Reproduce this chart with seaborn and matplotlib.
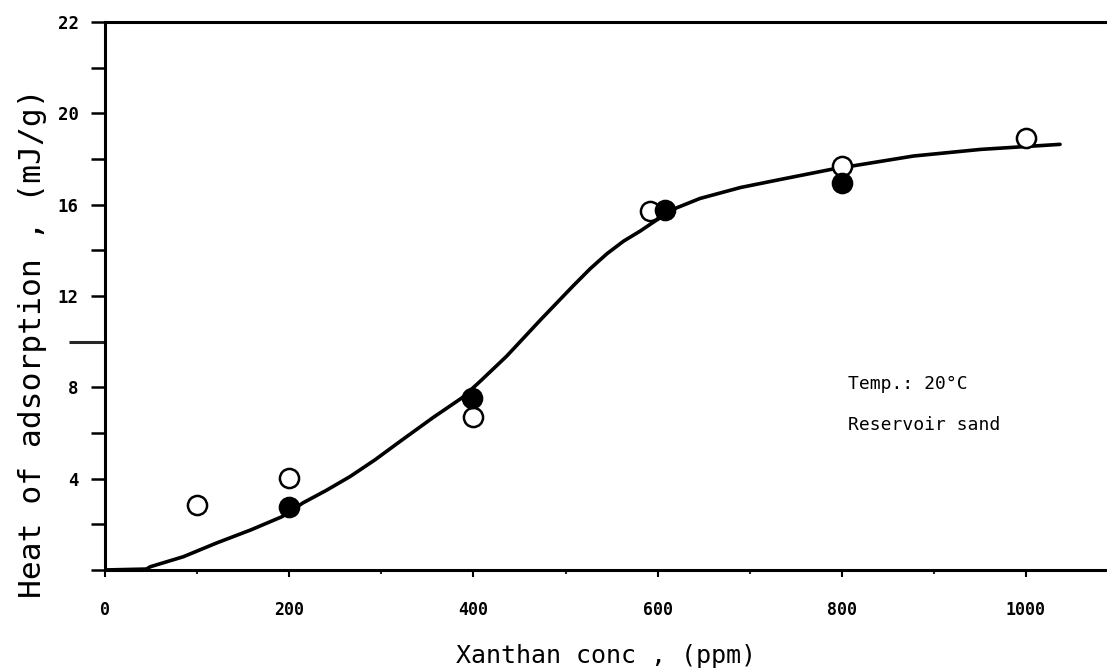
import numpy as np
import pandas as pd
import matplotlib
matplotlib.use("Agg")
import matplotlib.pyplot as plt
import seaborn as sns

# ---- data ----
curve_x = [0, 45, 49, 85, 121, 158, 192, 215, 240, 266, 293, 320, 356, 388,
           407, 436, 473, 508, 527, 545, 563, 581, 595, 617, 646, 690, 733,
           788, 878, 951, 1037]
curve_y = [0, 0.04, 0.14, 0.58, 1.18, 1.75, 2.33, 2.94, 3.48, 4.09, 4.82, 5.62,
           6.67, 7.55, 8.25, 9.36, 10.96, 12.43, 13.20, 13.85, 14.40, 14.84,
           15.22, 15.80, 16.27, 16.75, 17.10, 17.54, 18.13, 18.42, 18.64]

open_x = [100, 200, 400, 592, 800, 1000]
open_y = [2.85, 4.03, 6.72, 15.70, 17.70, 18.93]

filled_x = [200, 398, 608, 800]
filled_y = [2.76, 7.53, 15.76, 16.96]

xticks = [0, 200, 400, 600, 800, 1000]
xtick_labels = ["0", "200", "400", "600", "800", "1000"]
yticks = [0, 2, 4, 6, 8, 12, 14, 16, 18, 20, 22, 24]
ytick_labels = ["", "", "4", "", "8", "12", "", "16", "", "20", "", "22"]

annot = ["Temp.: 20°C", "Reservoir sand"]

# ---- plotting ----
sns.set_style("ticks")
plt.rcParams["font.family"] = ["DejaVu Sans Mono", "DejaVu Sans"]
plt.rcParams["text.color"] = "black"
plt.rcParams["axes.labelcolor"] = "black"

fig = plt.figure(figsize=(11.07, 6.70), dpi=100)
ax = fig.add_axes([0.0949, 0.1493, 0.9051, 0.8179])

curve = pd.DataFrame({"x": curve_x, "y": curve_y})
op = pd.DataFrame({"x": open_x, "y": open_y})
fl = pd.DataFrame({"x": filled_x, "y": filled_y})

sns.lineplot(data=curve, x="x", y="y", ax=ax, color="black", lw=2.6,
             sort=True, zorder=2)
sns.scatterplot(data=op, x="x", y="y", ax=ax, s=190, facecolor="white",
                edgecolor="black", linewidth=1.8, zorder=3)
sns.scatterplot(data=fl, x="x", y="y", ax=ax, s=190, color="black",
                edgecolor="black", linewidth=1.8, zorder=4)

ax.set_xlim(0, 1088)
ax.set_ylim(0, 24)

ax.set_xticks(xticks)
ax.set_xticklabels(xtick_labels, fontsize=12, fontweight="bold")
ax.set_xticks([100, 300, 500, 700, 900], minor=True)
ax.set_yticks(yticks)
ax.set_yticklabels(ytick_labels, fontsize=12.5, fontweight="bold")
ax.set_yticks([10], minor=True)

ax.tick_params(axis="x", which="major", direction="out", length=5, width=1.5,
               pad=17, colors="black")
ax.tick_params(axis="x", which="minor", direction="out", length=3, width=1.5)
ax.tick_params(axis="y", which="major", direction="out", length=10, width=1.8,
               pad=9, colors="black")
ax.tick_params(axis="y", which="minor", direction="out", length=26, width=2.2)

for side in ["left", "bottom", "top"]:
    ax.spines[side].set_visible(True)
    ax.spines[side].set_linewidth(2.2)
    ax.spines[side].set_color("black")
ax.spines["right"].set_visible(False)

ax.set_xlabel("Xanthan conc , (ppm)", fontsize=18, labelpad=18)
ax.set_ylabel("Heat of adsorption , (mJ/g)", fontsize=22.5)
ax.yaxis.set_label_coords(-0.058, 0.414)

ax.text(807, 8.16, annot[0], fontsize=13, ha="left", va="center")
ax.text(807, 6.36, annot[1], fontsize=13, ha="left", va="center")

fig.savefig("out.png", dpi=100)
